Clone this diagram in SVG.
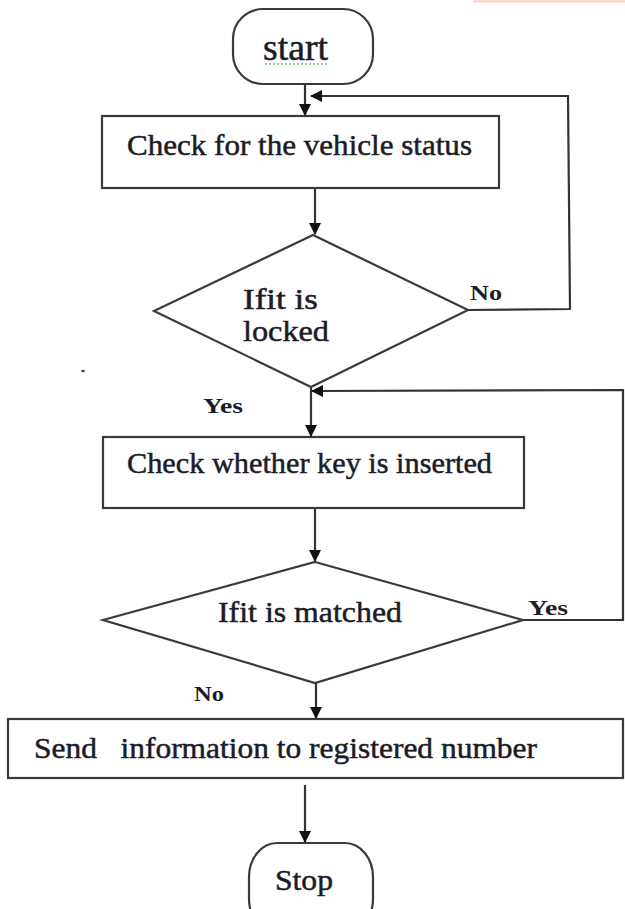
<svg xmlns="http://www.w3.org/2000/svg" width="625" height="909" viewBox="0 0 625 909">
  <style>
    .shape { fill: #ffffff; stroke: #3a3a3a; stroke-width: 2.2; }
    .line { fill: none; stroke: #333333; stroke-width: 2.2; }
    .t { font-family: "Liberation Serif", "Times New Roman", serif; font-size: 30px; fill: #1c1c28; stroke: #1c1c28; stroke-width: 0.5; }
    .lbl { font-family: "Liberation Serif", "Times New Roman", serif; font-size: 22px; font-weight: bold; fill: #1c1c28; }
  </style>
  <defs>
    <marker id="arrow" viewBox="0 0 12 12" refX="11" refY="6" markerWidth="12" markerHeight="12" markerUnits="userSpaceOnUse" orient="auto">
      <path d="M0,0 L12,6 L0,12 Z" fill="#111111"/>
    </marker>
  </defs>

  <rect x="473" y="0" width="152" height="2.5" fill="#f9d5cf"/>
  <ellipse cx="83" cy="371" rx="2" ry="1.3" fill="#555555"/>

  <g id="connectors">
    <line class="line" x1="305" y1="85" x2="305" y2="115" marker-end="url(#arrow)"/>
    <line class="line" x1="315" y1="188" x2="315" y2="234" marker-end="url(#arrow)"/>
    <polyline class="line" points="468,310 570,309 568,96 311,96" marker-end="url(#arrow)"/>
    <line class="line" x1="311" y1="387" x2="311" y2="436" marker-end="url(#arrow)"/>
    <polyline class="line" points="523,620 623,620 623,390 312,391" marker-end="url(#arrow)"/>
    <line class="line" x1="315" y1="508" x2="315" y2="561" marker-end="url(#arrow)"/>
    <line class="line" x1="316" y1="683" x2="316" y2="718" marker-end="url(#arrow)"/>
    <line class="line" x1="305" y1="785" x2="305" y2="842" marker-end="url(#arrow)"/>
    <text class="lbl" x="470" y="300" textLength="32" lengthAdjust="spacingAndGlyphs">No</text>
    <text class="lbl" x="203" y="413" textLength="40" lengthAdjust="spacingAndGlyphs">Yes</text>
    <text class="lbl" x="528" y="615" textLength="40" lengthAdjust="spacingAndGlyphs">Yes</text>
    <text class="lbl" x="194" y="701" textLength="30" lengthAdjust="spacingAndGlyphs">No</text>
  </g>

  <g id="start">
    <rect class="shape" x="233" y="9" width="140" height="75" rx="30" ry="30"/>
    <text class="t" x="263" y="60" style="font-size:37px" textLength="65" lengthAdjust="spacingAndGlyphs">start</text>
    <line x1="265" y1="64" x2="329" y2="64" stroke="#6cc46c" stroke-width="1.5" stroke-dasharray="2,2"/>
  </g>

  <g id="check-status">
    <rect class="shape" x="102" y="116" width="397" height="72"/>
    <text class="t" x="127" y="155" textLength="345" lengthAdjust="spacingAndGlyphs">Check for the vehicle status</text>
  </g>

  <g id="if-locked">
    <polygon class="shape" points="313,235 468,310 311,387 154,311"/>
    <text class="t" x="243" y="309" textLength="75" lengthAdjust="spacingAndGlyphs">Ifit is</text>
    <text class="t" x="243" y="341" textLength="86" lengthAdjust="spacingAndGlyphs">locked</text>
  </g>

  <g id="check-key">
    <rect class="shape" x="103" y="437" width="421" height="71"/>
    <text class="t" x="127" y="473" textLength="365" lengthAdjust="spacingAndGlyphs">Check whether key is inserted</text>
  </g>

  <g id="if-matched">
    <polygon class="shape" points="315,562 523,620 315,683 103,620"/>
    <text class="t" x="218" y="622" textLength="184" lengthAdjust="spacingAndGlyphs">Ifit is matched</text>
  </g>

  <g id="send-info">
    <rect class="shape" x="8" y="719" width="615" height="59"/>
    <text class="t" x="34" y="758" xml:space="preserve" textLength="503" lengthAdjust="spacingAndGlyphs">Send   information to registered number</text>
  </g>

  <g id="stop">
    <rect class="shape" x="249" y="843" width="124" height="90" rx="28" ry="34"/>
    <text class="t" x="275" y="890" textLength="58" lengthAdjust="spacingAndGlyphs">Stop</text>
  </g>
</svg>
